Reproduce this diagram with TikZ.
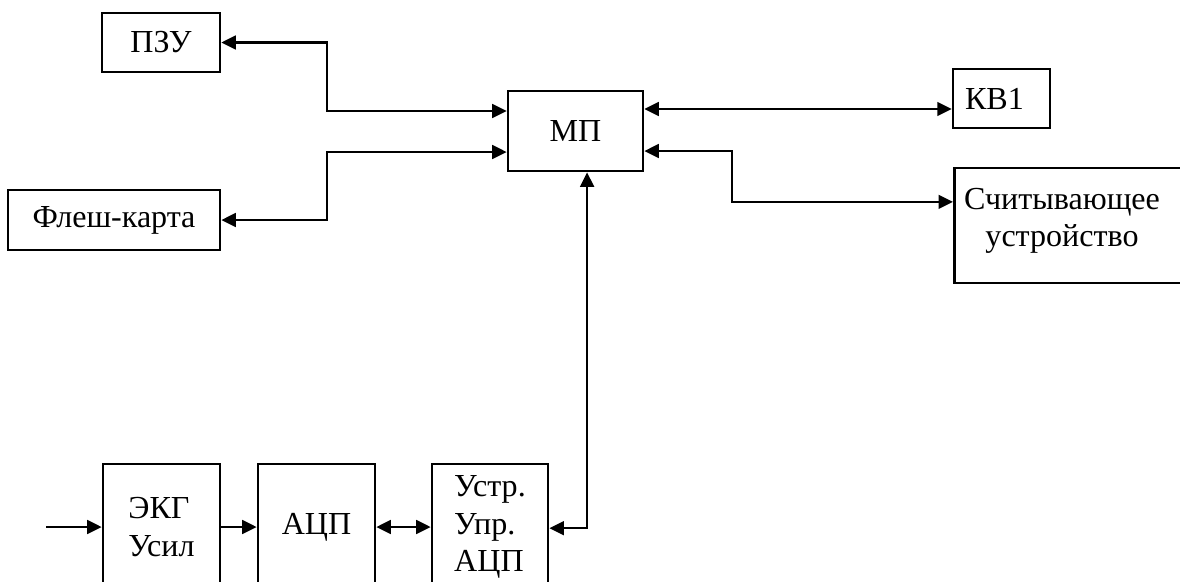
\documentclass[tikz,border=0pt]{standalone}
\usepackage{fontspec}
\setmainfont{Liberation Serif}
\usetikzlibrary{positioning,arrows.meta}

\begin{document}
\begin{tikzpicture}[x=0.025cm, y=-0.025cm, >={Triangle[length=0.36cm, width=0.34cm]},
  every node/.style={font=\fontsize{22.8}{26.5}\selectfont}]
\tikzstyle{block}=[draw, line width=1.9pt, inner sep=0pt, align=left]
\tikzstyle{link}=[line width=1.8pt]
\clip (0,0) rectangle (1180,581);
\node[block, minimum width=2.95cm, minimum height=1.475cm] (pzu) at (161,42.5) {ПЗУ};
\node[block, minimum width=5.3cm, minimum height=1.5cm] (flash) at (114,220) {Флеш-карта};
\node[block, minimum width=3.375cm, minimum height=2cm] (mp) at (575.5,131) {МП};
\node[block, minimum width=2.425cm, minimum height=1.475cm] (kv) at (1001.5,98.5) {КВ1\hspace{0.35cm}};
\node[block, minimum width=7cm, minimum height=2.875cm, anchor=west] (reader) at (953,225.5) {};
\node[align=center] (readertxt) at (1062,221) {Считывающее\\устройство};
\node[block, minimum width=2.925cm, minimum height=3.15cm] (ekg) at (161.5,527) {ЭКГ\\Усил};
\node[block, minimum width=2.925cm, minimum height=3.15cm] (adc) at (316.5,527) {АЦП};
\node[block, minimum width=2.9cm, minimum height=3.15cm] (ctl) at (490,527) {Устр.\\Упр.\\АЦП};
% bends and free ends
\coordinate (busL) at (327,0);
\coordinate (busR) at (732,0);
\coordinate (ecgin) at (46,527);
\coordinate (mpL1) at ([yshift=0.5cm]mp.west);
\coordinate (mpL2) at ([yshift=-0.525cm]mp.west);
\coordinate (mpR1) at ([yshift=0.55cm]mp.east);
\coordinate (mpR2) at ([yshift=-0.5cm]mp.east);
\coordinate (mpB) at ([xshift=0.29cm]mp.south);
\coordinate (rdIn) at ([yshift=0.59cm]reader.west);
\draw[link,<->] (pzu.east) -- (pzu.east -| busL) |- (mpL1);
\draw[link,<->] (flash.east) -- (flash.east -| busL) |- (mpL2);
\draw[link,<->] (mpR1) -- (mpR1 -| kv.west);
\draw[link,<->] (mpR2) -- (mpR2 -| busR) |- (rdIn);
\draw[link,<->] (mpB) |- ([yshift=-0.03cm]ctl.east);
\draw[link,->] (ecgin) -- (ekg.west);
\draw[link,->] (ekg) -- (adc);
\draw[link,<->] (adc) -- (ctl);
\end{tikzpicture}
\end{document}
